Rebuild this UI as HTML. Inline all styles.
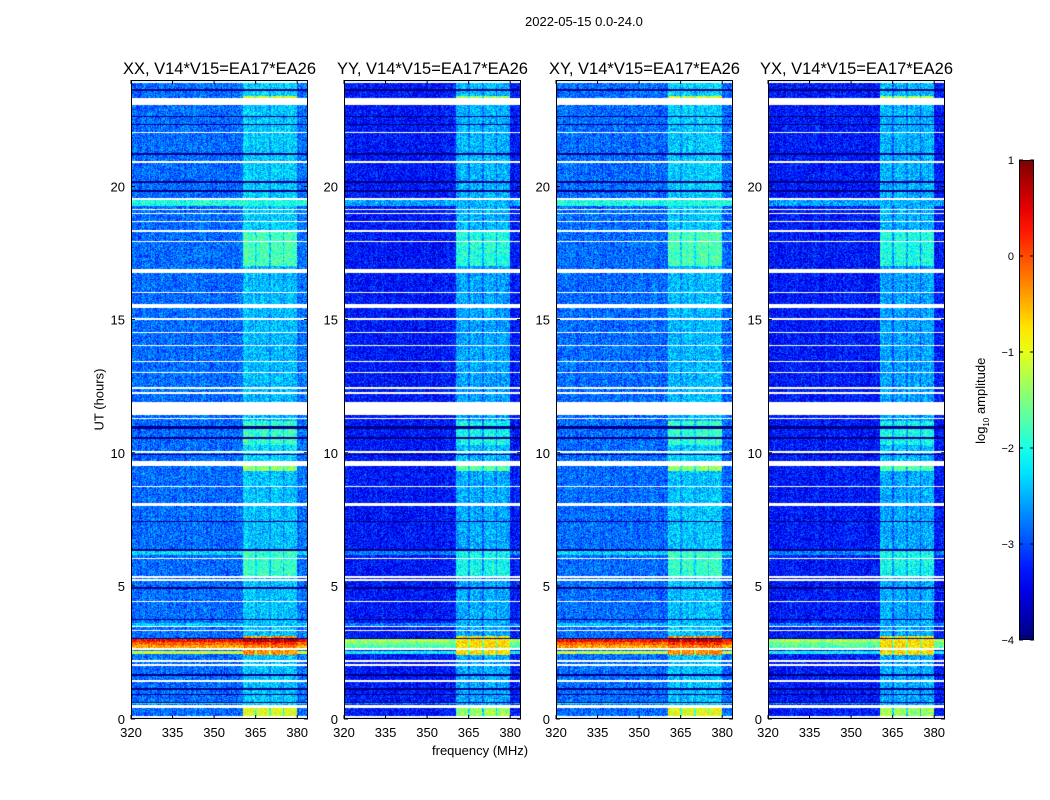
<!DOCTYPE html>
<html><head><meta charset="utf-8">
<style>
body{margin:0;background:#fff;font-family:"Liberation Sans",sans-serif;}
#wrap{position:relative;width:1050px;height:800px;overflow:hidden;}
.t{position:absolute;color:#000;white-space:nowrap;}
canvas{position:absolute;}
</style></head>
<body>
<div id="wrap">
<div class="t" style="left:525px;top:14px;font-size:13px">2022-05-15 0.0-24.0</div>
<div class="t" style="left:432px;top:743px;font-size:13px">frequency (MHz)</div>
<div class="t" style="left:59px;top:392px;font-size:13px;transform:rotate(-90deg);transform-origin:center;width:80px;text-align:center">UT (hours)</div>
<div class="t" style="left:927px;top:392px;font-size:13px;transform:rotate(-90deg);width:110px;text-align:center">log<sub style="font-size:8px">10</sub> amplitude</div>
<svg id="ov" width="1050" height="800" style="position:absolute;left:0;top:0"></svg>
</div>
<script>
const panelNames=['XX, V14*V15=EA17*EA26','YY, V14*V15=EA17*EA26','XY, V14*V15=EA17*EA26','YX, V14*V15=EA17*EA26'];
const panelLefts=[131,344,556,768];
const baseLevel=[-2.85,-3.3,-2.85,-3.3];
const bandScale=[1.0,0.85,1.0,0.85];
const rfiScale=[1.0,0.55,1.0,0.55];
const xTicks=[320,335,350,365,380];
const yTicks=[0,5,10,15,20];
const cbTicks=[1,0,-1,-2,-3,-4];
// frequency sub-bands with strong signal (MHz)
const subBands=[[360.5,364.7],[365.4,369.7],[370.4,374.7],[375.4,380]];
// band amplitude (log10) by time segment [start h, end h, level]
const bandLevels=[[0,0.45,-1.0],[0.45,2.4,-2.4],[2.4,3.1,-0.3],[3.1,5.3,-2.4],[5.3,6.4,-1.85],[6.4,9.3,-2.4],[9.3,9.6,-1.4],[9.6,10.3,-2.3],[10.3,11.2,-1.85],[11.2,17.0,-2.45],[17.0,18.3,-1.75],[18.3,23.1,-2.35],[23.1,23.4,-1.0],[23.4,24,-2.3]];
// flagged (white) time ranges, hours
const flagged=[[0.05,0.1],[0.42,0.52],[1.4,1.45],[2.0,2.05],[2.15,2.2],[2.58,2.68],[3.3,3.35],[3.45,3.5],[4.4,4.45],[5.2,5.25],[5.3,5.38],[6.0,6.05],[8.0,8.13],[8.7,8.75],[9.5,9.68],[10.0,10.05],[11.25,11.3],[11.4,11.9],[12.2,12.28],[12.4,12.48],[13.0,13.05],[13.4,13.45],[14.0,14.05],[14.5,14.55],[15.0,15.05],[15.45,15.6],[16.0,16.05],[16.75,16.9],[17.9,17.95],[18.3,18.35],[18.65,18.7],[18.95,19.0],[19.12,19.17],[19.5,19.55],[20.9,20.95],[22.0,22.05],[23.05,23.33],[23.9,23.95]];
// dark (near-zero) time rows
const darkRows=[[0.6,0.65],[0.9,0.95],[1.1,1.15],[1.6,1.7],[3.0,3.05],[3.7,3.75],[4.9,4.95],[6.3,6.4],[7.4,7.45],[9.9,9.95],[10.5,10.6],[10.9,11.0],[19.8,19.85],[20.15,20.2],[21.2,21.25],[22.3,22.35],[22.6,22.65],[23.6,23.65]];
// broadband RFI rows [start,end,level]
const rfiRows=[[2.45,2.55,-0.9],[2.68,2.78,-0.2],[2.78,2.88,0.2],[2.88,3.0,0.7],[0.55,0.62,-2.1],[6.15,6.35,-2.3],[19.25,19.5,-2.0],[3.5,3.6,-2.4]];

const SVGNS='http://www.w3.org/2000/svg';
const ov=document.getElementById('ov');
const wrap=document.getElementById('wrap');
const PT=80,PB=719,PW=177;
function xs(f,i){return panelLefts[i]+(f-320)*2.77;}
function ys(h){return PB-h*26.625;}
function hOf(y){return (PB-y)/26.625;}
function fOf(x){return 320+x/2.77;}
function jet(v){
  const r=Math.min(1,Math.max(0,1.5-Math.abs(4*v-3)));
  const g=Math.min(1,Math.max(0,1.5-Math.abs(4*v-2)));
  const b=Math.min(1,Math.max(0,1.5-Math.abs(4*v-1)));
  return [r*255|0,g*255|0,b*255|0];
}
function hash(a,b,c){let h=(a*374761393+b*668265263+c*2147483647)|0;h=(h^(h>>>13))*1274126177|0;return ((h^(h>>>16))>>>0)/4294967296;}
function inR(list,h){for(const r of list){if(h>=r[0]&&h<r[1])return r;}return null;}
function mk(tag,attrs,name){const e=document.createElementNS(SVGNS,tag);for(const k in attrs)e.setAttribute(k,attrs[k]);
  
  
  ov.appendChild(e);return e;}
function txt(x,y,s,anchor,name,size){const e=mk('text',{x:x,y:y,'text-anchor':anchor,'font-size':size||13,'font-family':'Liberation Sans, sans-serif'},name);e.textContent=s;return e;}

panelNames.forEach((nm,i)=>{
  const cv=document.createElement('canvas');
  cv.width=PW;cv.height=PB-PT;
  cv.style.left=panelLefts[i]+'px';cv.style.top=PT+'px';
  
  
  wrap.insertBefore(cv,ov);
  const ctx=cv.getContext('2d');const img=ctx.createImageData(PW,PB-PT);
  for(let y=0;y<PB-PT;y++){
    const h=hOf(y+PT+0.5);
    const fl=inR(flagged,h),dk=inR(darkRows,h),rf=inR(rfiRows,h);
    const bl=inR(bandLevels,h);
    for(let x=0;x<PW;x++){
      const k=(y*PW+x)*4;
      if(fl){img.data[k]=img.data[k+1]=img.data[k+2]=255;img.data[k+3]=255;continue;}
      const f=fOf(x+0.5);
      let v=baseLevel[i];
      let inBand=false;for(const b of subBands){if(f>=b[0]&&f<b[1])inBand=true;}
      if(bl&&f>=360.5&&f<380){v=baseLevel[i]+(bl[2]-baseLevel[i])*bandScale[i]*(inBand?1:0.55);}
      if(rf){const rv=baseLevel[i]+(rf[2]-baseLevel[i])*rfiScale[i]*(inBand||rf[2]<-1.5?1:0.9);if(rv>v)v=rv;}
      if(dk)v=-4.2;
      v+=(hash(x,y,i)-0.5)*0.9+(hash(x,7,i+3)-0.5)*0.2;
      const c=jet(Math.min(1,Math.max(0,(v+4)/5)));
      img.data[k]=c[0];img.data[k+1]=c[1];img.data[k+2]=c[2];img.data[k+3]=255;
    }
  }
  ctx.putImageData(img,0,0);
  const L=panelLefts[i];
  mk('rect',{x:L+0.5,y:PT+0.5,width:PW-1,height:PB-PT-1,fill:'none',stroke:'#000','stroke-width':1},'panel-frame');
  txt(L+PW/2,74,nm,'middle','panel-title',16.5);
  xTicks.forEach(t=>{const x=xs(t,i);
    mk('line',{x1:x,x2:x,y1:PB,y2:PB-4,stroke:'#000'},'x-tick');
    mk('line',{x1:x,x2:x,y1:PT,y2:PT+4,stroke:'#000'},'x-tick-top');
    txt(x,737,String(t),'middle','x-tick-label');});
  yTicks.forEach(t=>{const y=ys(t);
    mk('line',{x1:L,x2:L+4,y1:y,y2:y,stroke:'#000'},'y-tick');
    mk('line',{x1:L+PW-4,x2:L+PW,y1:y,y2:y,stroke:'#000'},'y-tick-right');
    txt(L-6,y+5,String(t),'end','y-tick-label');});
});
const cbx=1019,cbw=15,cbt=160,cbb=640;
const defs=mk('defs',{},'colorbar-defs');
const lg=document.createElementNS(SVGNS,'linearGradient');lg.setAttribute('id','jg');lg.setAttribute('x1',0);lg.setAttribute('y1',1);lg.setAttribute('x2',0);lg.setAttribute('y2',0);
for(let s=0;s<=20;s++){const c=jet(s/20);const st=document.createElementNS(SVGNS,'stop');st.setAttribute('offset',s/20);st.setAttribute('stop-color','rgb('+c.join(',')+')');lg.appendChild(st);}
defs.appendChild(lg);
mk('rect',{x:cbx+0.5,y:cbt+0.5,width:cbw-1,height:cbb-cbt-1,fill:'url(#jg)',stroke:'#000'},'colorbar');
cbTicks.forEach(t=>{const y=cbb-(t+4)/5*(cbb-cbt);
  mk('line',{x1:cbx,x2:cbx+4,y1:y,y2:y,stroke:'#000'},'colorbar-tick');
  mk('line',{x1:cbx+cbw-4,x2:cbx+cbw,y1:y,y2:y,stroke:'#000'},'colorbar-tick-right');
  txt(cbx-5,y+4,t<0?'\u2212'+(-t):String(t),'end','colorbar-tick-label',11);});
</script>
</body></html>
